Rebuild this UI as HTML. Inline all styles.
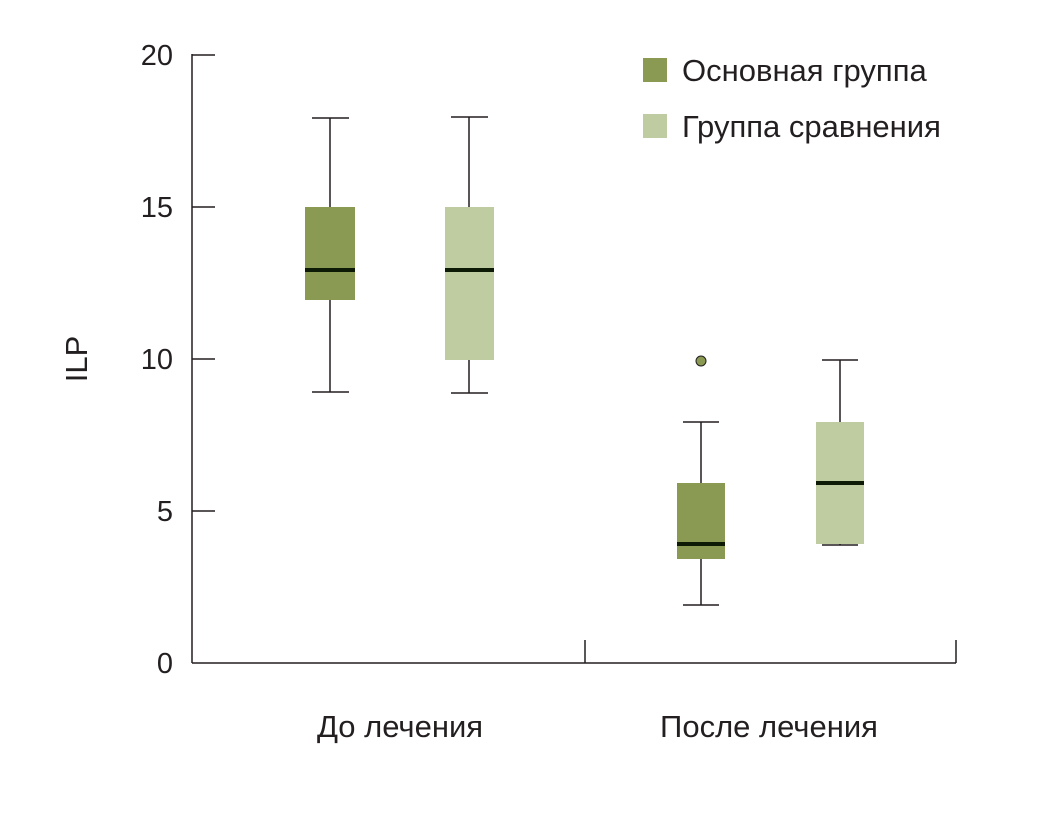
<!DOCTYPE html>
<html><head><meta charset="utf-8"><style>body{margin:0;background:#fff}</style></head><body>
<svg width="1053" height="810" xmlns="http://www.w3.org/2000/svg" font-family="Liberation Sans, DejaVu Sans, sans-serif" fill="#231f20">
<g stroke="#231f20" stroke-width="1.5" fill="none">
<line x1="192" y1="54" x2="192" y2="663"/>
<line x1="192" y1="663" x2="956" y2="663"/>
<line x1="585" y1="640" x2="585" y2="663"/>
<line x1="956" y1="640" x2="956" y2="663"/>
<line x1="192" y1="55" x2="215" y2="55"/>
<line x1="192" y1="207" x2="215" y2="207"/>
<line x1="192" y1="359" x2="215" y2="359"/>
<line x1="192" y1="511" x2="215" y2="511"/>
<line x1="330" y1="118" x2="330" y2="392"/><line x1="312" y1="118" x2="349" y2="118"/><line x1="312" y1="392" x2="349" y2="392"/>
<line x1="469" y1="117" x2="469" y2="393"/><line x1="451" y1="117" x2="488" y2="117"/><line x1="451" y1="393" x2="488" y2="393"/>
<line x1="701" y1="422" x2="701" y2="605"/><line x1="683" y1="422" x2="719" y2="422"/><line x1="683" y1="605" x2="719" y2="605"/>
<line x1="840" y1="360" x2="840" y2="545"/><line x1="822" y1="360" x2="858" y2="360"/><line x1="822" y1="545" x2="858" y2="545"/>
</g>
<rect x="305" y="207" width="50" height="93" fill="#8a9a52"/>
<rect x="445" y="207" width="49" height="153" fill="#bfcba0"/>
<rect x="677" y="483" width="48" height="76" fill="#8a9a52"/>
<rect x="816" y="422" width="48" height="122" fill="#bfcba0"/>
<g fill="#0d1a05">
<rect x="305" y="268" width="50" height="4"/>
<rect x="445" y="268" width="49" height="4"/>
<rect x="677" y="542" width="48" height="4"/>
<rect x="816" y="481" width="48" height="4"/>
</g>
<circle cx="701" cy="361" r="5" fill="#8a9a52" stroke="#231f20" stroke-width="1"/>
<g font-size="29" text-anchor="end">
<text x="173" y="65">20</text><text x="173" y="217">15</text><text x="173" y="369">10</text><text x="173" y="521">5</text><text x="173" y="673">0</text>
</g>
<text transform="translate(87,359) rotate(-90)" font-size="31" text-anchor="middle">ILP</text>
<g font-size="31" text-anchor="middle">
<text x="400" y="737">До лечения</text><text x="769" y="737">После лечения</text>
</g>
<rect x="643" y="58" width="24" height="24" fill="#8a9a52"/>
<rect x="643" y="114" width="24" height="24" fill="#bfcba0"/>
<g font-size="31"><text x="682" y="81">Основная группа</text><text x="682" y="137">Группа сравнения</text></g>
</svg>
</body></html>
